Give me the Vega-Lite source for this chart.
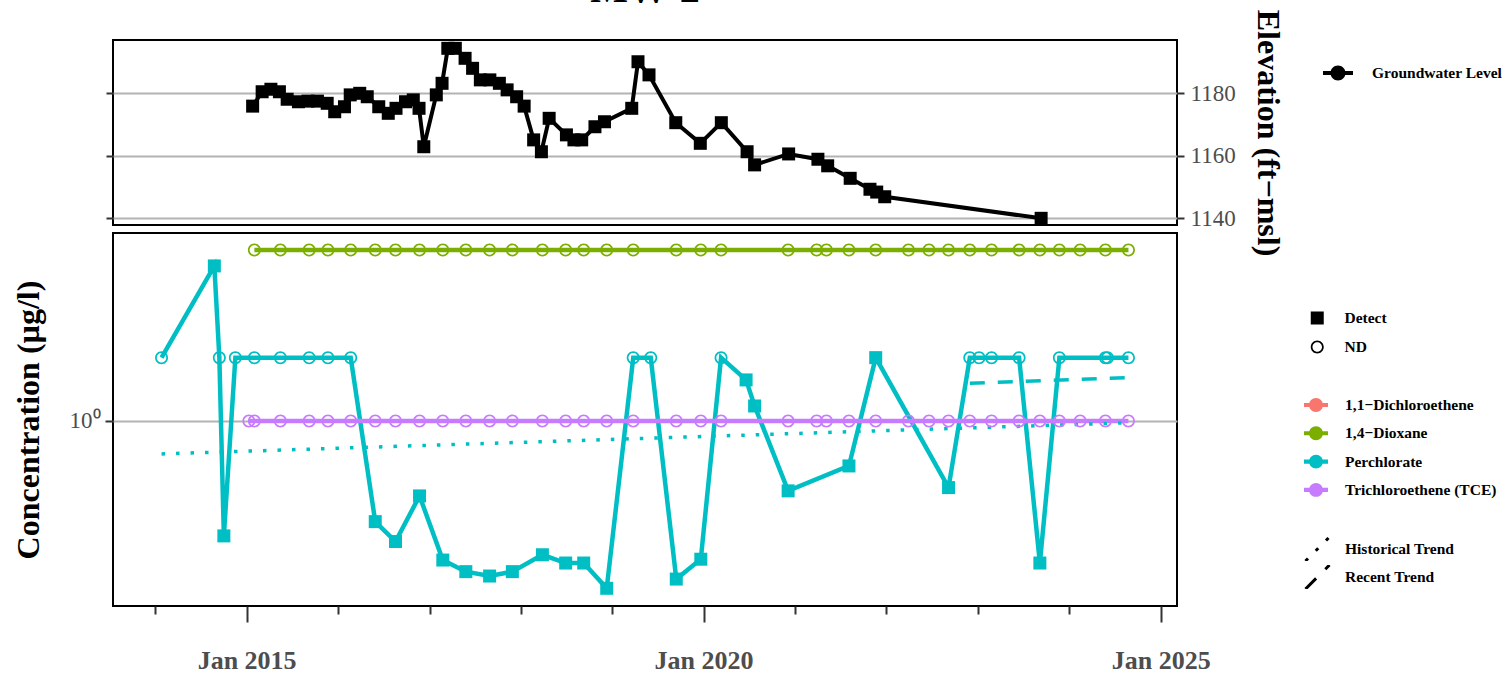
{
  "$schema": "https://vega.github.io/schema/vega-lite/v6.json",
  "padding": {"left": 11, "top": -30, "right": 0, "bottom": 0},
  "bounds": "flush",
  "title": {"text": "MW-2", "fontSize": 40, "font": "Liberation Serif", "fontWeight": "bold", "anchor": "middle", "frame": "group", "offset": -34, "baseline": "alphabetic", "color": "black"},
  "config": {
    "font": "Liberation Serif",
    "view": {"stroke": "black", "strokeWidth": 2},
    "axis": {"domain": false, "grid": false, "tickColor": "#333333", "tickWidth": 2, "labelColor": "#4D4D4D", "labelFont": "Liberation Serif", "titleFont": "Liberation Serif", "titleFontWeight": "bold", "titleColor": "black", "gridColor": "#B3B3B3", "gridWidth": 2},
    "legend": {"labelFont": "Liberation Serif", "labelFontWeight": "bold", "labelFontSize": 15.5, "labelColor": "black", "padding": 0, "titlePadding": 0, "labelLimit": 400}
  },
  "datasets": {
    "gw": [
      {"Date": "2015-01-25", "Elevation": 1175.9}, {"Date": "2015-03-04", "Elevation": 1180.5}, {"Date": "2015-04-08", "Elevation": 1181.3}, {"Date": "2015-05-12", "Elevation": 1180.5}, {"Date": "2015-06-12", "Elevation": 1178.1}, {"Date": "2015-07-27", "Elevation": 1177.3}, {"Date": "2015-09-03", "Elevation": 1177.5}, {"Date": "2015-10-11", "Elevation": 1177.5}, {"Date": "2015-11-19", "Elevation": 1176.8}, {"Date": "2015-12-19", "Elevation": 1174.1},
      {"Date": "2016-01-27", "Elevation": 1175.7}, {"Date": "2016-02-19", "Elevation": 1179.5}, {"Date": "2016-03-28", "Elevation": 1180.0}, {"Date": "2016-04-27", "Elevation": 1178.9}, {"Date": "2016-06-12", "Elevation": 1175.7}, {"Date": "2016-07-20", "Elevation": 1173.6}, {"Date": "2016-08-20", "Elevation": 1175.2}, {"Date": "2016-09-27", "Elevation": 1177.3}, {"Date": "2016-10-28", "Elevation": 1177.9}, {"Date": "2016-11-20", "Elevation": 1175.2}, {"Date": "2016-12-09", "Elevation": 1162.9},
      {"Date": "2017-01-28", "Elevation": 1179.5}, {"Date": "2017-02-20", "Elevation": 1183.2}, {"Date": "2017-03-15", "Elevation": 1194.4}, {"Date": "2017-04-14", "Elevation": 1194.4}, {"Date": "2017-05-23", "Elevation": 1191.2}, {"Date": "2017-06-22", "Elevation": 1188.0}, {"Date": "2017-07-23", "Elevation": 1184.3}, {"Date": "2017-08-30", "Elevation": 1184.3}, {"Date": "2017-10-07", "Elevation": 1183.2}, {"Date": "2017-11-07", "Elevation": 1181.1}, {"Date": "2017-12-15", "Elevation": 1178.9},
      {"Date": "2018-01-14", "Elevation": 1175.9}, {"Date": "2018-02-21", "Elevation": 1165.1}, {"Date": "2018-03-24", "Elevation": 1161.3}, {"Date": "2018-04-24", "Elevation": 1172.0}, {"Date": "2018-07-02", "Elevation": 1166.7}, {"Date": "2018-08-01", "Elevation": 1165.1}, {"Date": "2018-09-01", "Elevation": 1165.1}, {"Date": "2018-10-24", "Elevation": 1169.3}, {"Date": "2018-12-01", "Elevation": 1170.9},
      {"Date": "2019-03-20", "Elevation": 1175.2}, {"Date": "2019-04-14", "Elevation": 1190.1}, {"Date": "2019-05-28", "Elevation": 1185.9}, {"Date": "2019-09-12", "Elevation": 1170.6}, {"Date": "2019-12-19", "Elevation": 1164.0},
      {"Date": "2020-03-12", "Elevation": 1170.6}, {"Date": "2020-06-23", "Elevation": 1161.3}, {"Date": "2020-07-23", "Elevation": 1157.1}, {"Date": "2020-12-06", "Elevation": 1160.6},
      {"Date": "2021-04-02", "Elevation": 1158.9}, {"Date": "2021-05-11", "Elevation": 1156.8}, {"Date": "2021-08-09", "Elevation": 1152.8}, {"Date": "2021-10-27", "Elevation": 1149.3}, {"Date": "2021-11-23", "Elevation": 1148.4}, {"Date": "2021-12-25", "Elevation": 1146.9},
      {"Date": "2023-09-11", "Elevation": 1140.0}
    ],
    "conc": [
      {"Date": "2014-01-26", "Analyte": "Perchlorate", "Value": 2, "Detect": "ND"},
      {"Date": "2014-08-25", "Analyte": "Perchlorate", "Value": 5.46, "Detect": "Detect"},
      {"Date": "2014-09-14", "Analyte": "Perchlorate", "Value": 2, "Detect": "ND"},
      {"Date": "2014-10-02", "Analyte": "Perchlorate", "Value": 0.284, "Detect": "Detect"},
      {"Date": "2014-11-17", "Analyte": "Perchlorate", "Value": 2, "Detect": "ND"},
      {"Date": "2015-02-01", "Analyte": "Perchlorate", "Value": 2, "Detect": "ND"},
      {"Date": "2015-05-16", "Analyte": "Perchlorate", "Value": 2, "Detect": "ND"},
      {"Date": "2015-09-08", "Analyte": "Perchlorate", "Value": 2, "Detect": "ND"},
      {"Date": "2015-11-22", "Analyte": "Perchlorate", "Value": 2, "Detect": "ND"},
      {"Date": "2016-02-21", "Analyte": "Perchlorate", "Value": 2, "Detect": "ND"},
      {"Date": "2016-05-29", "Analyte": "Perchlorate", "Value": 0.332, "Detect": "Detect"},
      {"Date": "2016-08-18", "Analyte": "Perchlorate", "Value": 0.267, "Detect": "Detect"},
      {"Date": "2016-11-22", "Analyte": "Perchlorate", "Value": 0.44, "Detect": "Detect"},
      {"Date": "2017-02-23", "Analyte": "Perchlorate", "Value": 0.218, "Detect": "Detect"},
      {"Date": "2017-05-26", "Analyte": "Perchlorate", "Value": 0.192, "Detect": "Detect"},
      {"Date": "2017-08-29", "Analyte": "Perchlorate", "Value": 0.183, "Detect": "Detect"},
      {"Date": "2017-11-28", "Analyte": "Perchlorate", "Value": 0.192, "Detect": "Detect"},
      {"Date": "2018-03-28", "Analyte": "Perchlorate", "Value": 0.231, "Detect": "Detect"},
      {"Date": "2018-06-29", "Analyte": "Perchlorate", "Value": 0.211, "Detect": "Detect"},
      {"Date": "2018-09-09", "Analyte": "Perchlorate", "Value": 0.211, "Detect": "Detect"},
      {"Date": "2018-12-10", "Analyte": "Perchlorate", "Value": 0.16, "Detect": "Detect"},
      {"Date": "2019-03-26", "Analyte": "Perchlorate", "Value": 2, "Detect": "ND"},
      {"Date": "2019-06-04", "Analyte": "Perchlorate", "Value": 2, "Detect": "ND"},
      {"Date": "2019-09-14", "Analyte": "Perchlorate", "Value": 0.177, "Detect": "Detect"},
      {"Date": "2019-12-21", "Analyte": "Perchlorate", "Value": 0.22, "Detect": "Detect"},
      {"Date": "2020-03-11", "Analyte": "Perchlorate", "Value": 2, "Detect": "ND"},
      {"Date": "2020-06-19", "Analyte": "Perchlorate", "Value": 1.567, "Detect": "Detect"},
      {"Date": "2020-07-23", "Analyte": "Perchlorate", "Value": 1.178, "Detect": "Detect"},
      {"Date": "2020-12-04", "Analyte": "Perchlorate", "Value": 0.465, "Detect": "Detect"},
      {"Date": "2021-08-04", "Analyte": "Perchlorate", "Value": 0.611, "Detect": "Detect"},
      {"Date": "2021-11-19", "Analyte": "Perchlorate", "Value": 2, "Detect": "Detect"},
      {"Date": "2022-09-06", "Analyte": "Perchlorate", "Value": 0.482, "Detect": "Detect"},
      {"Date": "2022-11-30", "Analyte": "Perchlorate", "Value": 2, "Detect": "ND"},
      {"Date": "2023-01-06", "Analyte": "Perchlorate", "Value": 2, "Detect": "ND"},
      {"Date": "2023-02-25", "Analyte": "Perchlorate", "Value": 2, "Detect": "ND"},
      {"Date": "2023-06-15", "Analyte": "Perchlorate", "Value": 2, "Detect": "ND"},
      {"Date": "2023-09-06", "Analyte": "Perchlorate", "Value": 0.211, "Detect": "Detect"},
      {"Date": "2023-11-23", "Analyte": "Perchlorate", "Value": 2, "Detect": "ND"},
      {"Date": "2024-05-25", "Analyte": "Perchlorate", "Value": 2, "Detect": "ND"},
      {"Date": "2024-06-02", "Analyte": "Perchlorate", "Value": 2, "Detect": "ND"},
      {"Date": "2024-08-25", "Analyte": "Perchlorate", "Value": 2, "Detect": "ND"},
      {"Date": "2015-02-01", "Analyte": "1,4−Dioxane", "Value": 6.5, "Detect": "ND"},
      {"Date": "2015-05-16", "Analyte": "1,4−Dioxane", "Value": 6.5, "Detect": "ND"},
      {"Date": "2015-09-08", "Analyte": "1,4−Dioxane", "Value": 6.5, "Detect": "ND"},
      {"Date": "2015-11-22", "Analyte": "1,4−Dioxane", "Value": 6.5, "Detect": "ND"},
      {"Date": "2016-02-21", "Analyte": "1,4−Dioxane", "Value": 6.5, "Detect": "ND"},
      {"Date": "2016-05-29", "Analyte": "1,4−Dioxane", "Value": 6.5, "Detect": "ND"},
      {"Date": "2016-08-18", "Analyte": "1,4−Dioxane", "Value": 6.5, "Detect": "ND"},
      {"Date": "2016-11-22", "Analyte": "1,4−Dioxane", "Value": 6.5, "Detect": "ND"},
      {"Date": "2017-02-23", "Analyte": "1,4−Dioxane", "Value": 6.5, "Detect": "ND"},
      {"Date": "2017-05-26", "Analyte": "1,4−Dioxane", "Value": 6.5, "Detect": "ND"},
      {"Date": "2017-08-29", "Analyte": "1,4−Dioxane", "Value": 6.5, "Detect": "ND"},
      {"Date": "2017-11-28", "Analyte": "1,4−Dioxane", "Value": 6.5, "Detect": "ND"},
      {"Date": "2018-03-28", "Analyte": "1,4−Dioxane", "Value": 6.5, "Detect": "ND"},
      {"Date": "2018-06-29", "Analyte": "1,4−Dioxane", "Value": 6.5, "Detect": "ND"},
      {"Date": "2018-09-09", "Analyte": "1,4−Dioxane", "Value": 6.5, "Detect": "ND"},
      {"Date": "2018-12-10", "Analyte": "1,4−Dioxane", "Value": 6.5, "Detect": "ND"},
      {"Date": "2019-03-26", "Analyte": "1,4−Dioxane", "Value": 6.5, "Detect": "ND"},
      {"Date": "2019-09-14", "Analyte": "1,4−Dioxane", "Value": 6.5, "Detect": "ND"},
      {"Date": "2019-12-21", "Analyte": "1,4−Dioxane", "Value": 6.5, "Detect": "ND"},
      {"Date": "2020-03-11", "Analyte": "1,4−Dioxane", "Value": 6.5, "Detect": "ND"},
      {"Date": "2020-12-04", "Analyte": "1,4−Dioxane", "Value": 6.5, "Detect": "ND"},
      {"Date": "2021-03-28", "Analyte": "1,4−Dioxane", "Value": 6.5, "Detect": "ND"},
      {"Date": "2021-05-06", "Analyte": "1,4−Dioxane", "Value": 6.5, "Detect": "ND"},
      {"Date": "2021-08-04", "Analyte": "1,4−Dioxane", "Value": 6.5, "Detect": "ND"},
      {"Date": "2021-11-19", "Analyte": "1,4−Dioxane", "Value": 6.5, "Detect": "ND"},
      {"Date": "2022-03-30", "Analyte": "1,4−Dioxane", "Value": 6.5, "Detect": "ND"},
      {"Date": "2022-06-20", "Analyte": "1,4−Dioxane", "Value": 6.5, "Detect": "ND"},
      {"Date": "2022-09-06", "Analyte": "1,4−Dioxane", "Value": 6.5, "Detect": "ND"},
      {"Date": "2022-11-30", "Analyte": "1,4−Dioxane", "Value": 6.5, "Detect": "ND"},
      {"Date": "2023-02-25", "Analyte": "1,4−Dioxane", "Value": 6.5, "Detect": "ND"},
      {"Date": "2023-06-15", "Analyte": "1,4−Dioxane", "Value": 6.5, "Detect": "ND"},
      {"Date": "2023-09-06", "Analyte": "1,4−Dioxane", "Value": 6.5, "Detect": "ND"},
      {"Date": "2023-11-23", "Analyte": "1,4−Dioxane", "Value": 6.5, "Detect": "ND"},
      {"Date": "2024-02-14", "Analyte": "1,4−Dioxane", "Value": 6.5, "Detect": "ND"},
      {"Date": "2024-05-25", "Analyte": "1,4−Dioxane", "Value": 6.5, "Detect": "ND"},
      {"Date": "2024-08-25", "Analyte": "1,4−Dioxane", "Value": 6.5, "Detect": "ND"},
      {"Date": "2015-01-10", "Analyte": "Trichloroethene (TCE)", "Value": 1, "Detect": "ND"},
      {"Date": "2015-02-01", "Analyte": "Trichloroethene (TCE)", "Value": 1, "Detect": "ND"},
      {"Date": "2015-05-16", "Analyte": "Trichloroethene (TCE)", "Value": 1, "Detect": "ND"},
      {"Date": "2015-09-08", "Analyte": "Trichloroethene (TCE)", "Value": 1, "Detect": "ND"},
      {"Date": "2015-11-22", "Analyte": "Trichloroethene (TCE)", "Value": 1, "Detect": "ND"},
      {"Date": "2016-02-21", "Analyte": "Trichloroethene (TCE)", "Value": 1, "Detect": "ND"},
      {"Date": "2016-05-29", "Analyte": "Trichloroethene (TCE)", "Value": 1, "Detect": "ND"},
      {"Date": "2016-08-18", "Analyte": "Trichloroethene (TCE)", "Value": 1, "Detect": "ND"},
      {"Date": "2016-11-22", "Analyte": "Trichloroethene (TCE)", "Value": 1, "Detect": "ND"},
      {"Date": "2017-02-23", "Analyte": "Trichloroethene (TCE)", "Value": 1, "Detect": "ND"},
      {"Date": "2017-05-26", "Analyte": "Trichloroethene (TCE)", "Value": 1, "Detect": "ND"},
      {"Date": "2017-08-29", "Analyte": "Trichloroethene (TCE)", "Value": 1, "Detect": "ND"},
      {"Date": "2017-11-28", "Analyte": "Trichloroethene (TCE)", "Value": 1, "Detect": "ND"},
      {"Date": "2018-03-28", "Analyte": "Trichloroethene (TCE)", "Value": 1, "Detect": "ND"},
      {"Date": "2018-06-29", "Analyte": "Trichloroethene (TCE)", "Value": 1, "Detect": "ND"},
      {"Date": "2018-09-09", "Analyte": "Trichloroethene (TCE)", "Value": 1, "Detect": "ND"},
      {"Date": "2018-12-10", "Analyte": "Trichloroethene (TCE)", "Value": 1, "Detect": "ND"},
      {"Date": "2019-03-26", "Analyte": "Trichloroethene (TCE)", "Value": 1, "Detect": "ND"},
      {"Date": "2019-09-14", "Analyte": "Trichloroethene (TCE)", "Value": 1, "Detect": "ND"},
      {"Date": "2019-12-21", "Analyte": "Trichloroethene (TCE)", "Value": 1, "Detect": "ND"},
      {"Date": "2020-03-11", "Analyte": "Trichloroethene (TCE)", "Value": 1, "Detect": "ND"},
      {"Date": "2020-12-04", "Analyte": "Trichloroethene (TCE)", "Value": 1, "Detect": "ND"},
      {"Date": "2021-03-28", "Analyte": "Trichloroethene (TCE)", "Value": 1, "Detect": "ND"},
      {"Date": "2021-05-06", "Analyte": "Trichloroethene (TCE)", "Value": 1, "Detect": "ND"},
      {"Date": "2021-08-04", "Analyte": "Trichloroethene (TCE)", "Value": 1, "Detect": "ND"},
      {"Date": "2021-11-19", "Analyte": "Trichloroethene (TCE)", "Value": 1, "Detect": "ND"},
      {"Date": "2022-03-30", "Analyte": "Trichloroethene (TCE)", "Value": 1, "Detect": "ND"},
      {"Date": "2022-06-20", "Analyte": "Trichloroethene (TCE)", "Value": 1, "Detect": "ND"},
      {"Date": "2022-09-06", "Analyte": "Trichloroethene (TCE)", "Value": 1, "Detect": "ND"},
      {"Date": "2022-11-30", "Analyte": "Trichloroethene (TCE)", "Value": 1, "Detect": "ND"},
      {"Date": "2023-02-25", "Analyte": "Trichloroethene (TCE)", "Value": 1, "Detect": "ND"},
      {"Date": "2023-06-15", "Analyte": "Trichloroethene (TCE)", "Value": 1, "Detect": "ND"},
      {"Date": "2023-09-06", "Analyte": "Trichloroethene (TCE)", "Value": 1, "Detect": "ND"},
      {"Date": "2023-11-23", "Analyte": "Trichloroethene (TCE)", "Value": 1, "Detect": "ND"},
      {"Date": "2024-02-14", "Analyte": "Trichloroethene (TCE)", "Value": 1, "Detect": "ND"},
      {"Date": "2024-05-25", "Analyte": "Trichloroethene (TCE)", "Value": 1, "Detect": "ND"},
      {"Date": "2024-08-25", "Analyte": "Trichloroethene (TCE)", "Value": 1, "Detect": "ND"}
    ],
    "trend": [
      {"Date": "2014-01-26", "Analyte": "Perchlorate", "Value": 0.697, "Trend": "Historical Trend"},
      {"Date": "2024-08-25", "Analyte": "Perchlorate", "Value": 0.98, "Trend": "Historical Trend"},
      {"Date": "2022-11-30", "Analyte": "Perchlorate", "Value": 1.511, "Trend": "Recent Trend"},
      {"Date": "2024-08-25", "Analyte": "Perchlorate", "Value": 1.607, "Trend": "Recent Trend"}
    ]
  },
  "spacing": 8,
  "vconcat": [
    {
      "width": 1064,
      "height": 185,
      "data": {"name": "gw"},
      "encoding": {
        "x": {"field": "Date", "type": "temporal", "scale": {"type": "utc", "domain": ["2013-07-16", "2025-03-07"]}, "axis": null}
      },
      "layer": [
        {
          "mark": {"type": "line", "color": "black", "strokeWidth": 4},
          "encoding": {
            "y": {"field": "Elevation", "type": "quantitative", "scale": {"domain": [1137.86, 1197.06], "nice": false, "zero": false},
                  "axis": {"orient": "left", "values": [1140, 1160, 1180], "labels": false, "ticks": true, "tickSize": 7, "grid": true, "title": null}}
          }
        },
        {
          "mark": {"type": "point", "shape": "square", "filled": true, "size": 169, "opacity": 1, "strokeWidth": 0},
          "encoding": {
            "y": {"field": "Elevation", "type": "quantitative", "scale": {"domain": [1137.86, 1197.06], "nice": false, "zero": false},
                  "axis": {"orient": "right", "values": [1140, 1160, 1180], "format": "d", "labelFontSize": 23, "tickSize": 7, "labelPadding": 6, "grid": false, "title": "Elevation (ft−msl)", "titleFontSize": 32, "titlePadding": 15}},
            "fill": {"datum": "Groundwater Level", "scale": {"range": ["black"]},
                     "legend": {"orient": "none", "legendX": 1210, "legendY": 18, "title": null, "symbolType": "M-1,-0.13H1V0.13H-1Z M-0.5,0A0.5,0.5 0 1,1 0.5,0A0.5,0.5 0 1,1 -0.5,0Z", "symbolSize": 900, "symbolStrokeWidth": 0, "labelOffset": 19}}
          }
        }
      ],
      "resolve": {"scale": {"y": "independent"}}
    },
    {
      "width": 1064,
      "height": 373,
      "encoding": {
        "x": {"field": "Date", "type": "temporal", "scale": {"type": "utc", "domain": ["2013-07-16", "2025-03-07"]},
              "axis": {"orient": "bottom", "title": null, "grid": false,
                       "values": [{"year": 2014, "month": 1, "date": 1, "utc": true}, {"year": 2015, "month": 1, "date": 1, "utc": true}, {"year": 2016, "month": 1, "date": 1, "utc": true}, {"year": 2017, "month": 1, "date": 1, "utc": true}, {"year": 2018, "month": 1, "date": 1, "utc": true}, {"year": 2019, "month": 1, "date": 1, "utc": true}, {"year": 2020, "month": 1, "date": 1, "utc": true}, {"year": 2021, "month": 1, "date": 1, "utc": true}, {"year": 2022, "month": 1, "date": 1, "utc": true}, {"year": 2023, "month": 1, "date": 1, "utc": true}, {"year": 2024, "month": 1, "date": 1, "utc": true}, {"year": 2025, "month": 1, "date": 1, "utc": true}],
                       "tickSize": {"condition": {"test": "utcyear(datum.value) % 5 === 0", "value": 16}, "value": 8},
                       "labelExpr": "utcyear(datum.value) % 5 === 0 ? 'Jan ' + utcyear(datum.value) : ''",
                       "labelFontSize": 26, "labelFontWeight": "bold", "labelPadding": 25, "labelOverlap": false, "labelFlush": false}},
        "y": {"field": "Value", "type": "quantitative", "scale": {"type": "log", "domain": [0.1318, 7.83], "nice": false},
              "axis": {"orient": "left", "values": [1], "labelExpr": "'10⁰'", "tickSize": 8, "labelFontSize": 23, "labelPadding": 5, "grid": true, "title": "Concentration (µg/l)", "titleFontSize": 32, "titlePadding": 24}}
      },
      "layer": [
        {
          "data": {"name": "conc"},
          "mark": {"type": "line", "strokeWidth": 4.5},
          "encoding": {
            "color": {"field": "Analyte", "type": "nominal", "scale": {"domain": ["1,1−Dichloroethene", "1,4−Dioxane", "Perchlorate", "Trichloroethene (TCE)"], "range": ["#F8766D", "#7CAE00", "#00BFC4", "#C77CFF"]}, "legend": null}
          }
        },
        {
          "data": {"name": "trend"},
          "mark": {"type": "line", "strokeWidth": 3.5},
          "encoding": {
            "color": {"field": "Analyte", "type": "nominal", "legend": null},
            "strokeDash": {"field": "Trend", "type": "nominal", "scale": {"domain": ["Historical Trend", "Recent Trend"], "range": [[3.5, 11], [15, 13]]},
                           "legend": {"orient": "none", "legendX": 1191, "legendY": 497, "title": null, "symbolType": "M-1,1L1,-1", "symbolSize": 576, "symbolStrokeWidth": 3, "symbolStrokeColor": "black", "clipHeight": 24, "rowPadding": 4, "labelOffset": 14}}
          }
        },
        {
          "data": {"name": "conc"},
          "mark": {"type": "point", "filled": true, "size": 169, "opacity": 1, "strokeWidth": 0},
          "encoding": {
            "color": {"field": "Analyte", "type": "nominal",
                      "legend": {"orient": "none", "legendX": 1191, "legendY": 160, "title": null, "symbolType": "M-1,-0.17H1V0.17H-1Z M-0.58,0A0.58,0.58 0 1,1 0.58,0A0.58,0.58 0 1,1 -0.58,0Z", "symbolSize": 576, "symbolStrokeWidth": 0, "symbolOpacity": 1, "clipHeight": 24, "rowPadding": 4.3, "labelOffset": 17}},
            "shape": {"field": "Detect", "type": "nominal", "scale": {"domain": ["Detect", "ND"], "range": ["M-1,-1H1V1H-1Z", "M-1,0A1,1 0 1,1 1,0A1,1 0 1,1 -1,0Z M-0.73,0A0.73,0.73 0 1,0 0.73,0A0.73,0.73 0 1,0 -0.73,0Z"]},
                      "legend": {"orient": "none", "legendX": 1196.5, "legendY": 270, "title": null, "symbolSize": 169, "symbolStrokeWidth": 0, "symbolFillColor": "black", "clipHeight": 16, "rowPadding": 12, "labelOffset": 19.5}}
          }
        }
      ],
      "resolve": {"legend": {"color": "independent"}}
    }
  ]
}
